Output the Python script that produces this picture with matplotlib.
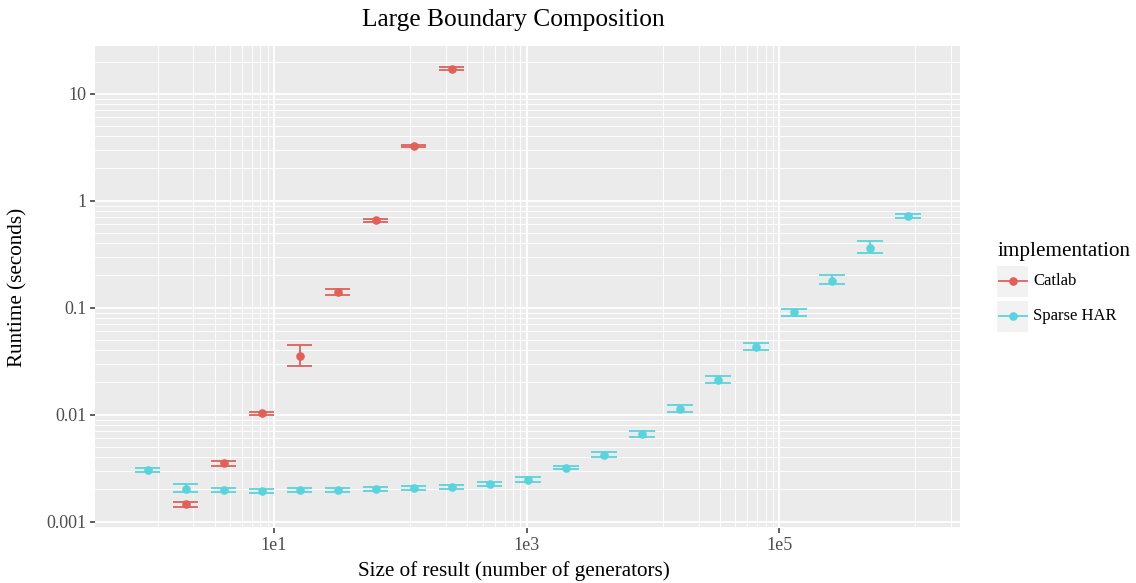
import matplotlib
matplotlib.use("Agg")
import matplotlib.pyplot as plt
from matplotlib.lines import Line2D
from matplotlib.patches import Rectangle
from matplotlib.ticker import NullFormatter
import numpy as np

# ---------------- data ----------------
sizes_har = [1, 2, 4, 8, 16, 32, 64, 128, 256, 512, 1024, 2048, 4096, 8192,
             16384, 32768, 65536, 131072, 262144, 524288, 1048576]
har_mean = [0.00302, 0.00200, 0.00196, 0.00193, 0.00198, 0.00198, 0.00203, 0.00207,
            0.00210, 0.00224, 0.00245, 0.00319, 0.00423, 0.00659, 0.01128, 0.0212,
            0.0432, 0.0906, 0.177, 0.359, 0.715]
har_lo = [0.00290, 0.00189, 0.00188, 0.00184, 0.00189, 0.00189, 0.00194, 0.00198,
          0.00201, 0.00216, 0.00233, 0.00308, 0.00405, 0.00623, 0.01052, 0.0199,
          0.0403, 0.0836, 0.166, 0.324, 0.685]
har_hi = [0.00320, 0.00226, 0.00208, 0.00203, 0.00208, 0.00208, 0.00213, 0.00217,
          0.00220, 0.00233, 0.00260, 0.00331, 0.00448, 0.00700, 0.01225, 0.0230,
          0.0471, 0.0966, 0.202, 0.420, 0.746]

sizes_cat = [2, 4, 8, 16, 32, 64, 128, 256]
cat_mean = [0.00145, 0.00352, 0.01035, 0.0351, 0.139, 0.655, 3.24, 17.2]
cat_lo = [0.00138, 0.00333, 0.0099, 0.0287, 0.131, 0.636, 3.15, 16.8]
cat_hi = [0.00152, 0.00369, 0.0107, 0.0445, 0.150, 0.675, 3.33, 17.6]

series_names = ["Catlab", "Sparse HAR"]
x_major = [1e-1, 1e1, 1e3, 1e5, 1e7]
x_labels = ["1e-1", "1e1", "1e3", "1e5", "1e7"]
y_major = [1e-4, 1e-3, 1e-2, 1e-1, 1, 10, 100]
y_labels = ["1e-4", "0.001", "0.01", "0.1", "1", "10", "100"]

title = "Large Boundary Composition"
xlabel = "Size of result (number of generators)"
ylabel = "Runtime (seconds)"
legend_title = "implementation"

# ---------------- style ----------------
FONT = "Liberation Serif"
plt.rcParams["font.family"] = [FONT, "DejaVu Serif"]
RED = "#E0605A"
CYAN = "#5AD3DC"
PANEL = "#EBEBEB"
W, H = 1136, 583

fig = plt.figure(figsize=(W / 100, H / 100), dpi=100)
fig.patch.set_facecolor("white")

px_l, px_r, px_t, px_b = 95.3, 960.0, 46.0, 528.3
ax = fig.add_axes([px_l / W, 1 - px_b / H, (px_r - px_l) / W, (px_b - px_t) / H])
ax.set_facecolor(PANEL)
ax.set_xscale("log")
ax.set_yscale("log")

def minors(majors):
    out = []
    for a, b in zip(majors[:-1], majors[1:]):
        for j in range(1, 9):
            out.append(a + (b - a) * j / 9.0)
    return out

ax.set_xticks(x_major)
ax.set_xticklabels(x_labels)
ax.set_yticks(y_major)
ax.set_yticklabels(y_labels)
ax.set_xticks(minors(x_major), minor=True)
ax.set_yticks(minors(y_major), minor=True)
ax.xaxis.set_minor_formatter(NullFormatter())
ax.yaxis.set_minor_formatter(NullFormatter())
ax.set_xlim(10 ** -0.415, 10 ** 6.432)
ax.set_ylim(10 ** -3.062, 10 ** 1.446)

ax.grid(True, which="major", color="white", lw=1.3, zorder=0)
ax.grid(True, which="minor", color="white", lw=0.65, zorder=0)
ax.set_axisbelow(True)
for s in ax.spines.values():
    s.set_visible(False)
ax.tick_params(which="minor", length=0)
ax.tick_params(which="major", length=3.6, width=1.1, color="#333333",
               labelcolor="#4D4D4D", labelsize=13, pad=2.5)
for lab in ax.get_xticklabels() + ax.get_yticklabels():
    lab.set_fontfamily(FONT)

half = 10 ** 0.1  # errorbar half-width in log10 units

def draw(xs, mean, lo, hi, color):
    xs = np.asarray(xs, float)
    ax.vlines(xs, lo, hi, color=color, lw=1.3, zorder=3)
    ax.hlines(lo, xs / half, xs * half, color=color, lw=1.3, zorder=3)
    ax.hlines(hi, xs / half, xs * half, color=color, lw=1.3, zorder=3)
    ax.plot(xs, mean, "o", color=color, ms=6.2, mec="none", zorder=4)

draw(sizes_cat, cat_mean, cat_lo, cat_hi, RED)
draw(sizes_har, har_mean, har_lo, har_hi, CYAN)

# ---------------- texts ----------------
fig.text(513.5 / W, 1 - 20 / H, title, ha="center", va="center",
         fontsize=18.3, color="black")
fig.text(513.7 / W, 1 - 571 / H, xlabel, ha="center", va="center",
         fontsize=15.2, color="black")
fig.text(18 / W, 1 - 287 / H, ylabel, ha="center", va="center",
         rotation=90, fontsize=15.2, color="black")

# ---------------- legend ----------------
fig.text(997.3 / W, 1 - 251.7 / H, legend_title, ha="left", va="center",
         fontsize=15.2, color="black")
key_y = [281.3, 316.3]
for name, col, ky in zip(series_names, [RED, CYAN], key_y):
    fig.add_artist(Rectangle((996.7 / W, 1 - (ky + 15.3) / H), 31.6 / W, 30.6 / H,
                             transform=fig.transFigure, facecolor="#F2F2F2",
                             edgecolor="none"))
    fig.add_artist(Line2D([998.5 / W, 1026.5 / W], [1 - ky / H, 1 - ky / H],
                          transform=fig.transFigure, color=col, lw=1.3))
    fig.add_artist(Line2D([1012.5 / W], [1 - ky / H], transform=fig.transFigure,
                          marker="o", color=col, ms=6.2, mec="none"))
    fig.text(1033.3 / W, 1 - ky / H, name, ha="left", va="center",
             fontsize=12, color="black")

fig.savefig("out.png", dpi=100, facecolor="white")
